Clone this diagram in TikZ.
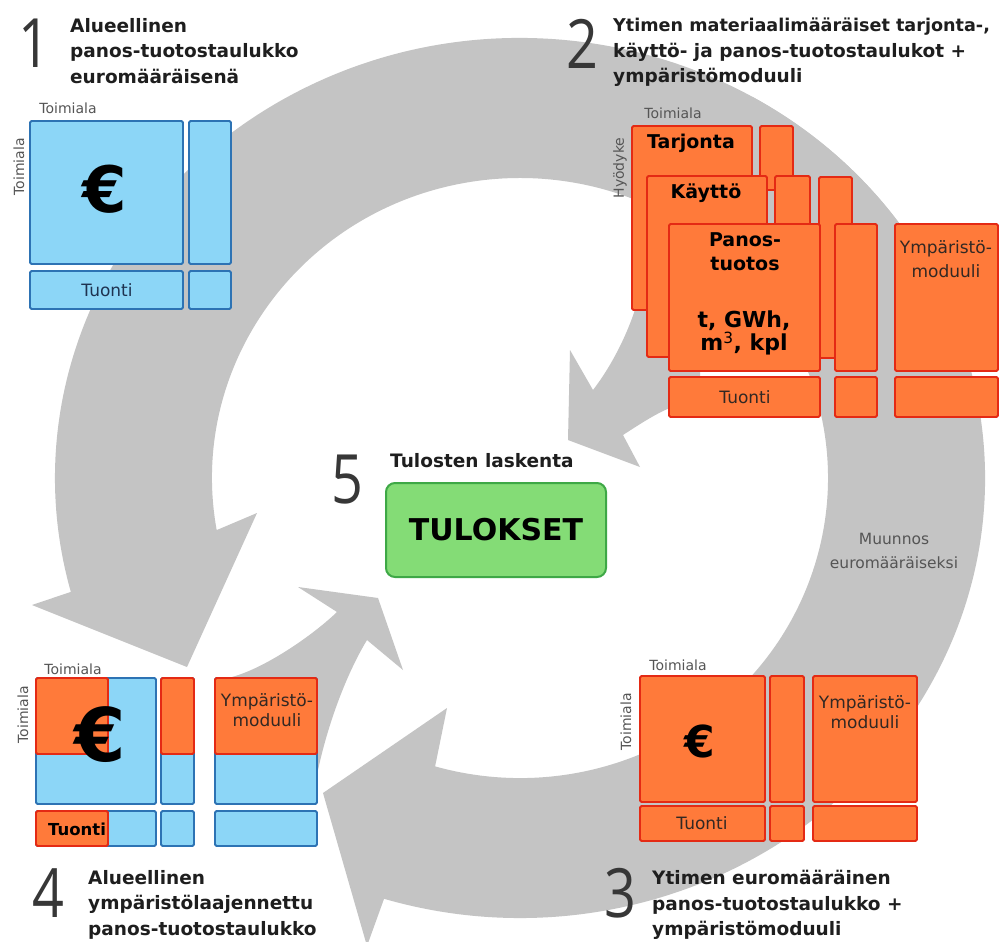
\documentclass[tikz,border=0pt]{standalone}
\usepackage{graphicx}
\usepackage{fontspec}
\setmainfont{DejaVu Sans}
\newfontfamily\digitfont{Open Sans}
\usetikzlibrary{calc}
\newcommand\myfs[2]{\fontsize{#1}{#2}\selectfont}
\definecolor{ringgray}{RGB}{196,196,196}
\definecolor{bluefill}{RGB}{140,214,247}
\definecolor{blueline}{RGB}{45,115,180}
\definecolor{orfill}{RGB}{255,122,58}
\definecolor{orline}{RGB}{228,42,20}
\definecolor{grfill}{RGB}{132,220,118}
\definecolor{grline}{RGB}{62,168,70}
\definecolor{digitgray}{RGB}{55,55,55}
\definecolor{labelgray}{RGB}{85,85,85}
\definecolor{txtdark}{RGB}{50,40,35}
\definecolor{titlecol}{RGB}{30,30,30}
\begin{document}
\begin{tikzpicture}[x=1pt,y=-1pt,
  ring/.style={fill=ringgray},
  bluebox/.style={draw=blueline,fill=bluefill,line width=1.8pt,rounded corners=1.5pt},
  orbox/.style={draw=orline,fill=orfill,line width=1.8pt,rounded corners=1.5pt},
  title/.style={anchor=north west,inner sep=0pt,align=left,text=titlecol,font=\bfseries\myfs{18.5}{25.5}},
  digit/.style={anchor=base,inner sep=0pt,text=digitgray,font=\digitfont\myfs{68}{68}},
  axislabel/.style={inner sep=0pt,text=labelgray,font=\myfs{14}{16}},
  celllabel/.style={inner sep=0pt,align=center,text=txtdark,font=\myfs{17}{#1}},
  boldlabel/.style={inner sep=0pt,align=center,text=black,font=\bfseries\myfs{19}{24}},
  euro/.style={inner sep=0pt,text=black,font=\bfseries\myfs{#1}{#1}},
]
\useasboundingbox (0,0) rectangle (1007,942);
\fill[white] (0,0) rectangle (1007,942);
\coordinate (C) at (520,478);

% big ring, counter-clockwise part ending at box 4 (left arrowhead)
\fill[ring] ($(C)+(-30:465 and 440)$) arc[start angle=-30,end angle=-195,x radius=465,y radius=440]
  -- (32,605) -- (187,667) -- (257,513)
  -- ($(C)+(170:308 and 300)$) arc[start angle=170,end angle=330,x radius=308,y radius=300] -- cycle;
% big ring, clockwise part ending at box 4 (bottom arrowhead)
\fill[ring] ($(C)+(-60:465 and 440)$) arc[start angle=-60,end angle=107,x radius=465,y radius=440]
  -- (367,946) -- (323,793) -- (447,708)
  -- ($(C)+(106:308 and 300)$) arc[start angle=106,end angle=-60,x radius=308,y radius=300] -- cycle;
% inner arrow from box 4 to the centre
\fill[ring] (240,705) -- (232,677) .. controls (265,668) and (312,636) .. (337,612)
  -- (298,587) -- (378,598) -- (403,670) -- (367,640)
  .. controls (350,668) and (330,715) .. (318,770) -- (280,770) -- cycle;
% inner arrow from box 2 to the centre
\fill[ring] (700,300) -- (638,300) .. controls (628,335) and (610,368) .. (593,390)
  -- (570,350) -- (568,440) -- (640,467) -- (623,435)
  .. controls (640,424) and (655,414) .. (672,407) -- (700,395) -- cycle;

% ---------- box 1 ----------
\draw[bluebox] (30,121) rectangle (183,264);
\draw[bluebox] (189,121) rectangle (231,264);
\draw[bluebox] (30,271) rectangle (183,309);
\draw[bluebox] (189,271) rectangle (231,309);
\node[axislabel] (b1top) at (68,108) {Toimiala};
\node[axislabel,rotate=90] (b1side) at (19,167) {Toimiala};
\node[euro=64] (b1eur) at (105,189) {€};
\node[celllabel=20,text={rgb,255:red,30;green,50;blue,80}] (b1tuo) at (107,290) {Tuonti};

% ---------- box 2 ----------
\draw[orbox] (632,126) rectangle (752,310);
\draw[orbox] (760,126) rectangle (793,190);
\draw[orbox] (647,176) rectangle (767,357);
\draw[orbox] (775,176) rectangle (810,240);
\draw[orbox] (819,177) rectangle (852,358);
\draw[orbox] (669,224) rectangle (820,371);
\draw[orbox] (835,224) rectangle (877,371);
\draw[orbox] (895,224) rectangle (998,371);
\draw[orbox] (669,377) rectangle (820,417);
\draw[orbox] (835,377) rectangle (877,417);
\draw[orbox] (895,377) rectangle (998,417);
\node[axislabel] (b2top) at (673,113) {Toimiala};
\node[axislabel,rotate=90] (b2side) at (620,168) {Hyödyke};
\node[boldlabel] (b2tar) at (691,143) {Tarjonta};
\node[boldlabel] (b2kay) at (706,193) {Käyttö};
\node[boldlabel] (b2pan) at (745,252) {Panos-\\tuotos};
\node[boldlabel,font=\bfseries\myfs{22}{22}] (b2unit) at (744,333) {t, GWh,\\m\textsuperscript{\mdseries 3}, kpl};
\node[celllabel=24] (b2ymp) at (946,259) {Ympäristö-\\moduuli};
\node[celllabel=20] (b2tuo) at (745,397) {Tuonti};

% ---------- box 3 ----------
\draw[orbox] (640,676) rectangle (765,802);
\draw[orbox] (770,676) rectangle (804,802);
\draw[orbox] (813,676) rectangle (917,802);
\draw[orbox] (640,806) rectangle (765,841);
\draw[orbox] (770,806) rectangle (804,841);
\draw[orbox] (813,806) rectangle (917,841);
\node[axislabel] (b3top) at (678,665) {Toimiala};
\node[axislabel,rotate=90] (b3side) at (626,722) {Toimiala};
\node[euro=44] (b3eur) at (700,741) {€};
\node[celllabel=20] (b3ymp) at (865,712) {Ympäristö-\\moduuli};
\node[celllabel=20] (b3tuo) at (702,823) {Tuonti};

% ---------- box 4 ----------
\draw[bluebox] (36,678) rectangle (156,804);
\draw[orbox] (36,678) rectangle (108,754);
\draw[bluebox] (161,678) rectangle (194,804);
\draw[orbox] (161,678) rectangle (194,754);
\draw[bluebox] (215,678) rectangle (317,804);
\draw[orbox] (215,678) rectangle (317,754);
\draw[bluebox] (36,811) rectangle (156,846);
\draw[orbox] (36,811) rectangle (108,846);
\draw[bluebox] (161,811) rectangle (194,846);
\draw[bluebox] (215,811) rectangle (317,846);
\node[axislabel] (b4top) at (73,669) {Toimiala};
\node[axislabel,rotate=90] (b4side) at (23,715) {Toimiala};
\node[euro=74] (b4eur) at (100,735) {€};
\node[boldlabel,font=\bfseries\myfs{16.5}{20}] (b4tuo) at (77,829) {Tuonti};
\node[celllabel=20] (b4ymp) at (267,710) {Ympäristö-\\moduuli};

% ---------- centre ----------
\node[draw=grline,fill=grfill,line width=2pt,rounded corners=9pt,minimum width=220pt,minimum height=94pt,inner sep=0pt,font=\bfseries\myfs{30}{30}] (res) at (496,530) {TULOKSET};
\node[anchor=base west,inner sep=0pt,text=titlecol,font=\bfseries\myfs{18.5}{22}] (t5) at (390,467) {Tulosten laskenta};
\node[inner sep=0pt,align=center,text=labelgray,font=\myfs{15.5}{24}] (conv) at (894,551) {Muunnos\\euromääräiseksi};

% ---------- numbers ----------
\node[digit] (n1) at (34,68) {\scalebox{0.82}[1]{1}};
\node[digit] (n2) at (582,69) {\scalebox{0.82}[1]{2}};
\node[digit] (n5) at (347,503) {\scalebox{0.82}[1]{5}};
\node[digit] (n3) at (620,917) {\scalebox{0.82}[1]{3}};
\node[digit] (n4) at (48,917) {\scalebox{0.82}[1]{4}};

% ---------- titles ----------
\node[title] (t1) at (70,18) {Alueellinen\\panos-tuotostaulukko\\euromääräisenä};
\node[title] (t2) at (613,18) {{\myfs{17.6}{25.5}Ytimen materiaalimääräiset tarjonta-,}\\käyttö- ja panos-tuotostaulukot +\\ympäristömoduuli};
\node[title] (t3) at (652,870) {Ytimen euromääräinen\\panos-tuotostaulukko +\\ympäristömoduuli};
\node[title] (t4) at (88,870) {Alueellinen\\ympäristölaajennettu\\panos-tuotostaulukko};
\end{tikzpicture}
\end{document}
